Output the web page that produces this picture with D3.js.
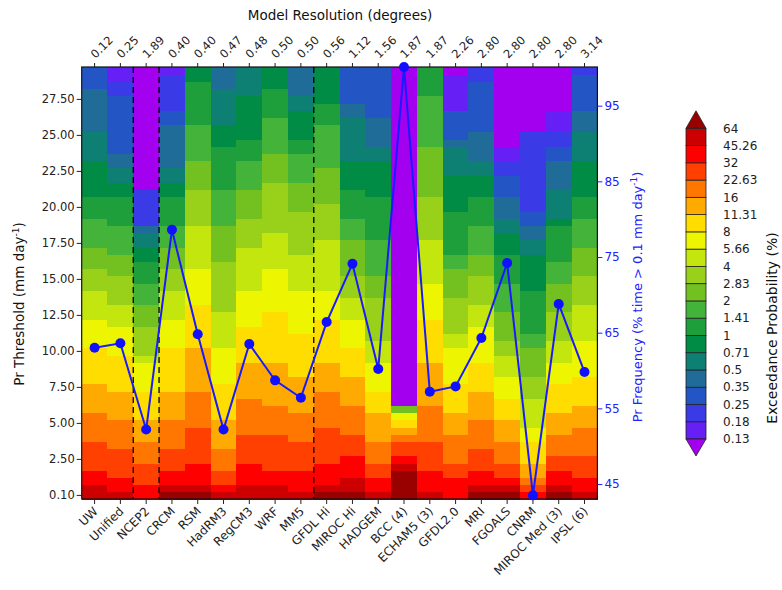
<!DOCTYPE html>
<html><head><meta charset="utf-8">
<script src="https://cdn.jsdelivr.net/npm/d3@7"></script>
<style>
body{margin:0;background:#fff;}
svg text{font-family:"DejaVu Sans",sans-serif;}
</style></head>
<body><svg id="chart" width="782" height="590"></svg>
<script>
// ---------------- DATA ----------------
const models = ["UW","Unified","NCEP2","CRCM","RSM","HadRM3","RegCM3","WRF","MM5","GFDL Hi","MIROC Hi","HADGEM","BCC (4)","ECHAM5 (3)","GFDL2.0","MRI","FGOALS","CNRM","MIROC Med (3)","IPSL (6)"];
const resolution = ["0.12","0.25","1.89","0.40","0.40","0.47","0.48","0.50","0.50","0.56","1.12","1.56","1.87","1.87","2.26","2.80","2.80","2.80","2.80","3.14"];
const frequency = [63.0,63.6,52.2,78.6,64.8,52.2,63.5,58.7,56.4,66.4,74.1,60.2,100.1,57.2,57.9,64.3,74.2,43.5,68.8,59.8];
const thresholds = [0.1,0.5,1,1.5,2,2.5,3,3.5,4,4.5,5,5.5,6,6.5,7,7.5,8,8.5,9,9.5,10,10.5,11,11.5,12,12.5,13,13.5,14,14.5,15,15.5,16,16.5,17,17.5,18,18.5,19,19.5,20,20.5,21,21.5,22,22.5,23,23.5,24,24.5,25,25.5,26,26.5,27,27.5,28,28.5,29,29.5];
const yTickThresholds = [0.1,2.5,5,7.5,10,12.5,15,17.5,20,22.5,25,27.5];
const freqTicks = [45,55,65,75,85,95];
const levelBounds = [0.13,0.18,0.25,0.35,0.5,0.71,1,1.41,2,2.83,4,5.66,8,11.31,16,22.63,32,45.26,64];
const levelLabels = ["0.13","0.18","0.25","0.35","0.5","0.71","1","1.41","2","2.83","4","5.66","8","11.31","16","22.63","32","45.26","64"];
const levelColors = ["#a300f0","#6620f5","#3a3ae6","#2356c4","#1f6c99","#0d7f73","#008c44","#1f9e3c","#44b33a","#73c021","#99d11a","#c4e60f","#eef500","#ffdd00","#ffaa00","#ff7700","#ff4000","#ff0000","#cc0000","#990000"];
// exceedance probability (%) per model, runs of [value, number of threshold rows] from 0.1 mm/day upward
const exceedanceRuns = [
 [[54,2],[38,2],[27,4],[19,4],[13.5,4],[9.6,5],[6.8,4],[4.8,4],[3.4,3],[2.4,3],[1.7,4],[1.2,3],[0.85,5],[0.6,4],[0.42,6],[0.3,3]],
 [[54,1],[38,2],[27,4],[19,4],[13.5,4],[9.6,5],[6.8,4],[4.8,3],[3.4,4],[2.4,3],[1.7,4],[1.2,4],[0.85,2],[0.6,2],[0.42,2],[0.3,8],[0.21,2],[0.15,2]],
 [[38,2],[27,3],[19,3],[13.5,3],[9.6,4],[6.8,4],[4.8,1],[3.4,4],[2.4,3],[1.7,3],[1.2,3],[0.85,2],[0.6,2],[0.42,1],[0.21,5],[0.1,17]],
 [[70,1],[54,1],[38,2],[27,3],[19,4],[13.5,4],[9.6,6],[6.8,4],[4.8,4],[3.4,3],[2.4,3],[1.7,3],[1.2,4],[0.85,2],[0.6,2],[0.42,6],[0.3,2],[0.21,5],[0.15,1]],
 [[70,1],[54,1],[38,3],[27,5],[19,5],[13.5,6],[9.6,6],[6.8,5],[4.8,6],[3.4,5],[2.4,4],[1.7,5],[1.2,6],[0.85,2]],
 [[54,1],[38,1],[27,2],[19,3],[13.5,4],[9.6,5],[6.8,5],[4.8,5],[3.4,7],[2.4,5],[1.7,5],[1.2,6],[0.85,3],[0.6,5],[0.42,3]],
 [[54,2],[38,3],[27,4],[19,5],[13.5,5],[9.6,5],[6.8,5],[4.8,6],[3.4,4],[2.4,4],[1.7,4],[1.2,3],[0.85,6],[0.6,4]],
 [[54,2],[38,2],[27,5],[19,4],[13.5,6],[9.6,7],[6.8,6],[4.8,5],[3.4,7],[2.4,4],[1.7,5],[1.2,4],[0.85,3]],
 [[54,1],[38,3],[27,4],[19,4],[13.5,5],[9.6,6],[6.8,6],[4.8,5],[3.4,6],[2.4,4],[1.7,4],[1.2,2],[0.85,4],[0.6,2],[0.42,4]],
 [[70,1],[54,1],[38,3],[27,5],[19,5],[13.5,4],[9.6,6],[6.8,4],[4.8,7],[3.4,5],[2.4,5],[1.7,6],[1.2,3],[0.85,5]],
 [[70,1],[54,2],[38,3],[27,3],[19,4],[13.5,4],[9.6,4],[6.8,4],[4.8,3],[3.4,3],[2.4,5],[1.7,3],[1.2,4],[0.85,4],[0.6,6],[0.42,2],[0.3,5]],
 [[54,1],[38,2],[27,2],[19,3],[13.5,4],[9.6,3],[6.8,4],[4.8,3],[3.4,6],[2.4,3],[1.7,5],[1.2,6],[0.85,5],[0.6,2],[0.42,4],[0.3,7]],
 [[70,4],[54,1],[38,1],[27,2],[19,1],[13.5,1],[9.6,1],[6.8,1],[2.4,1],[0.1,47]],
 [[54,1],[38,3],[27,4],[19,5],[13.5,6],[9.6,6],[6.8,5],[4.8,6],[3.4,6],[2.4,7],[1.7,7],[1.2,4]],
 [[38,3],[27,2],[19,4],[13.5,3],[9.6,4],[6.8,5],[4.8,2],[3.4,5],[2.4,4],[1.7,2],[1.2,6],[0.85,5],[0.6,4],[0.42,1],[0.3,4],[0.15,5],[0.1,1]],
 [[70,1],[54,1],[38,2],[27,3],[19,4],[13.5,4],[9.6,4],[6.8,5],[4.8,3],[3.4,4],[2.4,3],[1.7,4],[1.2,4],[0.85,3],[0.6,2],[0.42,4],[0.3,7],[0.21,2]],
 [[70,1],[54,1],[38,1],[27,2],[19,3],[13.5,3],[9.6,3],[6.8,3],[4.8,3],[3.4,2],[2.4,4],[1.7,4],[1.2,4],[0.85,3],[0.6,2],[0.42,3],[0.3,3],[0.21,2],[0.15,2],[0.1,11]],
 [[38,1],[27,1],[19,1],[13.5,2],[9.6,3],[6.8,2],[4.8,4],[3.4,3],[2.4,4],[1.7,2],[1.2,6],[0.85,5],[0.6,2],[0.42,2],[0.3,2],[0.21,11],[0.1,9]],
 [[70,1],[54,1],[38,2],[27,2],[19,3],[13.5,3],[9.6,4],[6.8,3],[4.8,3],[3.4,4],[2.4,4],[1.7,3],[1.2,5],[0.85,1],[0.6,4],[0.42,4],[0.3,2],[0.21,2],[0.15,3],[0.1,6]],
 [[54,1],[38,2],[27,3],[19,4],[13.5,3],[9.6,4],[6.8,5],[4.8,5],[3.4,4],[2.4,4],[1.7,4],[1.2,3],[0.85,5],[0.6,4],[0.42,3],[0.3,5],[0.21,1]]
];
const dividerAfter = ["Unified","NCEP2","MM5"];

// ---------------- LAYOUT ----------------
const L = 81.7, R = 597.4, T = 67, B = 499;
const svg = d3.select("#chart");

const x = d3.scaleBand().domain(models).range([L, R]).padding(0);
const y = d3.scaleBand().domain(thresholds).range([B, T]).padding(0);
const yF = d3.scaleLinear().domain([43.02, 100.11]).range([B, T]);
const color = d3.scaleThreshold().domain(levelBounds).range(levelColors);

// expand cells
const cells = [];
models.forEach((m, i) => {
  let r = 0;
  exceedanceRuns[i].forEach(([v, n]) => {
    for (let k = 0; k < n && r < thresholds.length; k++, r++) {
      cells.push({model: m, thr: thresholds[r], value: v});
    }
  });
});

svg.append("g").selectAll("rect").data(cells).join("rect")
  .attr("x", d => x(d.model))
  .attr("y", d => y(d.thr))
  .attr("width", x.bandwidth() + 0.5)
  .attr("height", y.bandwidth() + 0.5)
  .attr("fill", d => color(d.value))
  .attr("shape-rendering", "crispEdges");

// divider lines
svg.append("g").selectAll("line").data(dividerAfter).join("line")
  .attr("x1", d => x(d) + x.bandwidth()).attr("x2", d => x(d) + x.bandwidth())
  .attr("y1", T).attr("y2", B)
  .attr("stroke", "#000").attr("stroke-width", 1.3).attr("stroke-dasharray", "6,4");

// frame
svg.append("rect").attr("x", L).attr("y", T).attr("width", R - L).attr("height", B - T)
  .attr("fill", "none").attr("stroke", "#111").attr("stroke-width", 1.2);

// left axis
const yAxis = d3.axisLeft(y).tickValues(yTickThresholds).tickFormat(d3.format(".2f")).tickSize(5).tickPadding(2);
const gl = svg.append("g").attr("transform", `translate(${L},0)`).call(yAxis);
gl.select(".domain").remove();
gl.selectAll("text").attr("font-size", 11.5).attr("fill", "#222").attr("font-family", "DejaVu Sans");
gl.selectAll("line").attr("stroke", "#222");

// bottom axis
const xAxis = d3.axisBottom(x).tickSize(5).tickSizeOuter(0);
const gb = svg.append("g").attr("transform", `translate(0,${B})`).call(xAxis);
gb.select(".domain").remove();
gb.selectAll("line").attr("stroke", "#222");
gb.selectAll("text").attr("font-size", 12).attr("fill", "#222").attr("font-family", "DejaVu Sans")
  .attr("text-anchor", "end").attr("dy", null).attr("y", null)
  .attr("transform", "translate(4,13) rotate(-45)");

// top axis
const xTop = d3.axisTop(x).tickSize(4).tickSizeOuter(0).tickFormat((d, i) => resolution[i]);
const gt = svg.append("g").attr("transform", `translate(0,${T})`).call(xTop);
gt.select(".domain").remove();
gt.selectAll("line").attr("stroke", "#222");
gt.selectAll("text").attr("font-size", 11.5).attr("fill", "#222").attr("font-family", "DejaVu Sans")
  .attr("text-anchor", "start").attr("dy", null).attr("y", null)
  .attr("transform", "translate(1,-8) rotate(-45)");

// right axis (frequency)
const gr = svg.append("g").attr("transform", `translate(${R},0)`)
  .call(d3.axisRight(yF).tickValues(freqTicks).tickSize(5).tickPadding(2));
gr.select(".domain").remove();
gr.selectAll("line").attr("stroke", "#2020ff");
gr.selectAll("text").attr("font-size", 12).attr("fill", "#2020ff").attr("font-family", "DejaVu Sans");

// frequency line
const line = d3.line().x((d, i) => x(models[i]) + x.bandwidth() / 2).y(d => yF(d));
svg.append("path").datum(frequency).attr("d", line)
  .attr("fill", "none").attr("stroke", "#1a1aff").attr("stroke-width", 2);
svg.append("g").selectAll("circle").data(frequency).join("circle")
  .attr("cx", (d, i) => x(models[i]) + x.bandwidth() / 2)
  .attr("cy", d => yF(d)).attr("r", 5).attr("fill", "#1010ff");

// titles
svg.append("text").attr("x", 340).attr("y", 20).attr("text-anchor", "middle")
  .attr("font-size", 13.5).attr("fill", "#111").text("Model Resolution (degrees)");

const lt = svg.append("text").attr("transform", "translate(24,304) rotate(-90)")
  .attr("text-anchor", "middle").attr("font-size", 13.5).attr("fill", "#111");
lt.append("tspan").text("Pr Threshold (mm day");
lt.append("tspan").attr("dy", -5).attr("font-size", 9).text("-1");
lt.append("tspan").attr("dy", 5).text(")");

const rt = svg.append("text").attr("transform", "translate(642,297) rotate(-90)")
  .attr("text-anchor", "middle").attr("font-size", 13).attr("fill", "#2020ff");
rt.append("tspan").text("Pr Frequency (% time > 0.1 mm day");
rt.append("tspan").attr("dy", -5).attr("font-size", 9).text("-1");
rt.append("tspan").attr("dy", 5).text(")");

// colorbar
const cbX = 686, cbW = 20, cbTop = 128.3, cbBot = 439;
const cbScale = d3.scaleBand().domain(d3.range(1, 19)).range([cbBot, cbTop]);
const cb = svg.append("g");
cb.selectAll("rect").data(d3.range(1, 19)).join("rect")
  .attr("x", cbX).attr("y", d => cbScale(d)).attr("width", cbW).attr("height", cbScale.bandwidth())
  .attr("fill", d => levelColors[d]).attr("stroke", "#222").attr("stroke-width", 0.8);
cb.append("path").attr("d", `M${cbX},${cbTop} L${cbX + cbW / 2},${cbTop - 17.5} L${cbX + cbW},${cbTop} Z`)
  .attr("fill", levelColors[19]).attr("stroke", "#222").attr("stroke-width", 0.8);
cb.append("path").attr("d", `M${cbX},${cbBot} L${cbX + cbW / 2},${cbBot + 17} L${cbX + cbW},${cbBot} Z`)
  .attr("fill", levelColors[0]).attr("stroke", "#222").attr("stroke-width", 0.8);
cb.selectAll("text").data(levelLabels).join("text")
  .attr("x", 723).attr("y", (d, i) => cbBot - i * cbScale.bandwidth()).attr("dy", "0.35em")
  .attr("font-size", 12).attr("fill", "#222").text(d => d);

svg.append("text").attr("transform", "translate(777,328) rotate(-90)")
  .attr("text-anchor", "middle").attr("font-size", 14).attr("fill", "#111")
  .text("Exceedance Probability (%)");
</script></body></html>
